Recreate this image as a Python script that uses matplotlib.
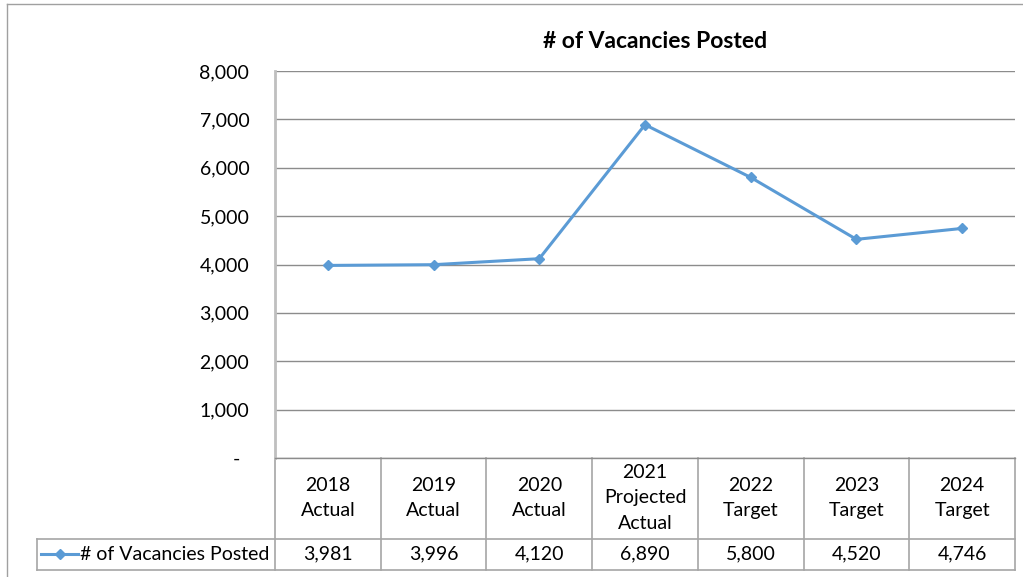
import matplotlib
matplotlib.use("Agg")
import matplotlib.pyplot as plt
from matplotlib.transforms import blended_transform_factory
from matplotlib.lines import Line2D

categories = ["2018\nActual", "2019\nActual", "2020\nActual", "2021\nProjected\nActual",
              "2022\nTarget", "2023\nTarget", "2024\nTarget"]
values = [3981, 3996, 4120, 6890, 5800, 4520, 4746]
series_name = "# of Vacancies Posted"
title = "# of Vacancies Posted"
yticks = [0, 1000, 2000, 3000, 4000, 5000, 6000, 7000, 8000]

plt.rcParams['font.family'] = ['Lato', 'DejaVu Sans']
W, H = 1023, 577
fig = plt.figure(figsize=(W / 100, H / 100), dpi=100)
FS = 14

def fx(px):
    return px / W

def fy(py):
    return 1 - py / H

L, R, T, B = 275, 1015, 71, 458
ax = fig.add_axes([fx(L), fy(B), fx(R) - fx(L), fy(T) - fy(B)])
line_color = "#5B9BD5"
n = len(categories)
x = list(range(n))
ax.plot(x, values, color=line_color, lw=2.2, marker="D", ms=5, zorder=3)
ax.set_xlim(-0.5, n - 0.5)
ax.set_ylim(0, 8000)
ax.set_yticks(yticks)
ax.set_yticklabels(["-" if v == 0 else f"{v:,}" for v in yticks], fontsize=FS)
for lbl, v in zip(ax.get_yticklabels(), yticks):
    if v == 0:
        lbl.set_x(-0.012)
ax.tick_params(axis="y", length=0, pad=18.5)
ax.set_xticks([])
ax.grid(axis="y", color="#8C8C8C", lw=1)
for s in ["top", "right", "bottom"]:
    ax.spines[s].set_visible(False)
ax.spines["left"].set_color("#BFBFBF")
ax.spines["left"].set_linewidth(2)

fig.text(fx(655), fy(41), title, ha="center", va="center", fontsize=16.5, fontweight="bold")

# data table below
tr = blended_transform_factory(ax.transData, fig.transFigure)
tbl_color = "#A6A6A6"
row1, row2 = 539, 570
for k in range(n + 1):
    xb = k - 0.5
    ax.add_line(Line2D([xb, xb], [fy(B), fy(row2)], transform=tr, color=tbl_color, lw=1.2, clip_on=False))
fig.add_artist(Line2D([fx(37), fx(R)], [fy(row1), fy(row1)], color=tbl_color, lw=1.2))
fig.add_artist(Line2D([fx(37), fx(R)], [fy(row2), fy(row2)], color=tbl_color, lw=1.2))
fig.add_artist(Line2D([fx(37), fx(37)], [fy(row1), fy(row2)], color=tbl_color, lw=1.2))
fig.add_artist(Line2D([fx(L), fx(R)], [fy(B), fy(B)], color="#8C8C8C", lw=1))

for xi, cat, v in zip(x, categories, values):
    ax.text(xi, fy(498), cat, transform=tr, ha="center", va="center", fontsize=FS,
            linespacing=1.6)
    ax.text(xi, fy(554), f"{v:,}", transform=tr, ha="center", va="center", fontsize=FS)

# legend key
fig.add_artist(Line2D([fx(41), fx(78)], [fy(554), fy(554)], color=line_color, lw=2.2))
fig.add_artist(Line2D([fx(59.5)], [fy(554)], color=line_color, marker="D", ms=5, lw=0))
fig.text(fx(80), fy(554), series_name, ha="left", va="center", fontsize=FS)

# outer chart border
fig.add_artist(Line2D([fx(7), fx(1023)], [fy(4), fy(4)], color="#A0A0A0", lw=1))
fig.add_artist(Line2D([fx(7), fx(7)], [fy(4), fy(577)], color="#A0A0A0", lw=1))

fig.savefig("out.png", dpi=100, facecolor="white")
